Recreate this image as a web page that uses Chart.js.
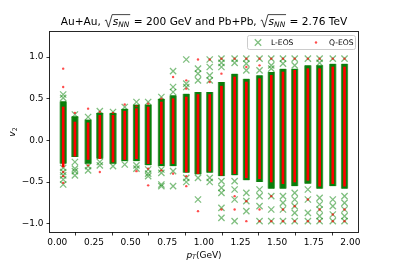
<!DOCTYPE html>
<html>
<head>
<meta charset="utf-8">
<script src="https://cdn.jsdelivr.net/npm/chart.js@4.4.1/dist/chart.umd.min.js"></script>
<style>
	html, body { margin: 0; padding: 0; background: #fff; }
</style>
</head>
<body>
<canvas id="myChart" width="399" height="266"></canvas>
<script>
	// pT bin centres (GeV)
	var pt = [0.04, 0.12, 0.21, 0.29, 0.38, 0.46, 0.54, 0.62, 0.71, 0.79, 0.88, 0.96,
		1.04, 1.12, 1.21, 1.29, 1.38, 1.46, 1.54, 1.62, 1.71, 1.79, 1.88, 1.96];

	// dense part of each column (where the markers overlap into a solid band)
	var greenLo = [-0.28, -0.20, -0.28, -0.22, -0.28, -0.25, -0.25, -0.30, -0.31, -0.31, -0.39, -0.41,
		-0.39, -0.43, -0.42, -0.48, -0.50, -0.58, -0.58, -0.55, -0.52, -0.58, -0.55, -0.58];
	var greenHi = [0.47, 0.29, 0.25, 0.33, 0.33, 0.38, 0.43, 0.43, 0.50, 0.54, 0.56, 0.58,
		0.58, 0.70, 0.80, 0.74, 0.78, 0.82, 0.86, 0.86, 0.90, 0.90, 0.92, 0.92];
	var redLo = [-0.32, -0.19, -0.23, -0.22, -0.26, -0.23, -0.22, -0.28, -0.28, -0.28, -0.38, -0.40,
		-0.37, -0.42, -0.40, -0.45, -0.46, -0.50, -0.52, -0.50, -0.48, -0.55, -0.52, -0.55];
	var redHi = [0.40, 0.22, 0.21, 0.30, 0.30, 0.35, 0.38, 0.40, 0.46, 0.50, 0.52, 0.55,
		0.55, 0.65, 0.76, 0.70, 0.74, 0.78, 0.82, 0.84, 0.86, 0.86, 0.88, 0.88];

	// single points outside the dense band, per column
	var greenOut = [
		[0.55, 0.51, -0.33, -0.38, -0.42, -0.47, -0.53],
		[0.31, -0.26, -0.34, -0.37, -0.42],
		[0.28, -0.31, -0.36],
		[0.35, -0.26, -0.30],
		[0.34, -0.31],
		[0.40, -0.29],
		[0.46, -0.30, -0.34],
		[0.46, -0.35, -0.40, -0.43],
		[0.52, -0.35, -0.39, -0.53, -0.55],
		[0.83, 0.64, 0.58, -0.37, -0.55],
		[0.97, 0.68, 0.64, -0.45, -0.50],
		[0.86, 0.80, 0.72, -0.45, -0.71],
		[0.97, 0.88, 0.78, 0.72, -0.45, -0.50],
		[0.98, 0.93, 0.88, -0.49, -0.57, -0.63, -0.81, -0.93],
		[0.98, 0.93, -0.49, -0.59, -0.71, -0.97],
		[0.98, 0.92, 0.84, -0.63, -0.73, -0.85],
		[0.98, 0.84, -0.59, -0.67, -0.79, -0.97],
		[0.98, 0.90, 0.86, -0.67, -0.83, -0.97],
		[0.98, 0.92, -0.67, -0.75, -0.83, -0.97],
		[0.98, 0.90, -0.63, -0.71, -0.79, -0.87, -0.97],
		[0.98, -0.59, -0.71, -0.87, -0.97],
		[0.98, 0.93, -0.69, -0.77, -0.83, -0.91, -0.97],
		[0.98, -0.71, -0.79, -0.89, -0.97],
		[0.98, -0.67, -0.75, -0.83, -0.91, -0.97]
	];
	var redOut = [
		[0.86, 0.64, -0.38, -0.43, -0.51],
		[0.33],
		[0.38, -0.30],
		[0.34, -0.38],
		[0.33],
		[0.43],
		[0.41, -0.37],
		[0.44, -0.34, -0.54],
		[0.50, -0.36],
		[0.76, -0.40],
		[0.72, 0.62, -0.43, -0.55],
		[0.97, -0.85],
		[0.97, 0.70],
		[0.98, 0.80, -0.83],
		[0.98, -0.67, -0.83],
		[0.98, 0.88, -0.73, -0.97],
		[0.98, 0.90, -0.83, -0.97],
		[0.98, -0.67, -0.97],
		[0.98, -0.83, -0.97],
		[0.98, -0.79, -0.97],
		[0.98, -0.71, -0.97],
		[0.98, -0.83, -0.97],
		[0.98, -0.89, -0.97],
		[0.98, -0.83, -0.97]
	];

	var seriesNames = ['L-EOS', 'Q-EOS'];
	var xTicks = [0, 0.25, 0.5, 0.75, 1, 1.25, 1.5, 1.75, 2];
	var yTicks = [-1, -0.5, 0, 0.5, 1];

	var sqrtS = {sqrt: [{t: 's', it: 1}, {t: 'NN', it: 1, sub: 1}]};
	var titleParts = [{t: 'Au+Au, '}, sqrtS, {t: ' = 200 GeV and Pb+Pb, '}, sqrtS, {t: ' = 2.76 TeV'}];
	var xLabelParts = [{t: 'p', it: 1}, {t: 'T', it: 1, sub: 1}, {t: '(GeV)'}];
	var yLabelParts = [{t: 'v', it: 1}, {t: '2', sub: 1}];

	var FONT = '"DejaVu Sans", sans-serif';
	var greenX = 'rgba(0, 128, 0, 0.5)';
	var redDot = 'rgba(255, 0, 0, 0.7)';

	function bandData(lo, hi) {
		return pt.map(function(x, i) { return {x: x, y: [lo[i], hi[i]]}; });
	}
	function outData(list) {
		var d = [];
		list.forEach(function(col, i) {
			col.forEach(function(v) { d.push({x: pt[i], y: v}); });
		});
		return d;
	}

	// small mathtext-like writer: italic, subscript, square root
	function fontFor(p, size) {
		return (p.it ? 'italic ' : '') + (p.sub ? size * 0.7 : size) + 'px ' + FONT;
	}
	function partsWidth(ctx, parts, size) {
		var w = 0;
		parts.forEach(function(p) {
			if (p.sqrt) { w += size * 0.8 + partsWidth(ctx, p.sqrt, size) + size * 0.1; return; }
			ctx.font = fontFor(p, size);
			w += ctx.measureText(p.t).width;
		});
		return w;
	}
	function drawParts(ctx, parts, x, by, size) {
		parts.forEach(function(p) {
			if (p.sqrt) {
				var inner = partsWidth(ctx, p.sqrt, size);
				var rw = size * 0.8, top = by - size * 0.98;
				ctx.beginPath();
				ctx.moveTo(x + size * 0.05, by - size * 0.40);
				ctx.lineTo(x + size * 0.18, by - size * 0.48);
				ctx.lineTo(x + size * 0.40, by + size * 0.20);
				ctx.lineTo(x + rw - size * 0.06, top);
				ctx.lineTo(x + rw + inner + size * 0.08, top);
				ctx.lineWidth = size * 0.07;
				ctx.strokeStyle = '#000';
				ctx.stroke();
				x = drawParts(ctx, p.sqrt, x + rw, by, size) + size * 0.1;
				return;
			}
			ctx.font = fontFor(p, size);
			ctx.fillText(p.t, x, p.sub ? by + size * 0.22 : by);
			x += ctx.measureText(p.t).width;
		});
		return x;
	}

	var decorations = {
		id: 'decorations',
		afterDatasetsDraw: function(chart) {
			var ctx = chart.ctx, a = chart.chartArea;
			ctx.save();
			ctx.strokeStyle = 'rgba(0,0,0,0.85)';
			ctx.lineWidth = 1;
			ctx.strokeRect(Math.round(a.left) - 0.5, Math.round(a.top) - 0.5,
				Math.round(a.right - a.left) + 1, Math.round(a.bottom - a.top) + 1);
			ctx.restore();
		},
		afterDraw: function(chart) {
			var ctx = chart.ctx, a = chart.chartArea;
			var cx = (a.left + a.right) / 2;
			ctx.save();
			ctx.fillStyle = '#000';
			ctx.textBaseline = 'alphabetic';
			ctx.textAlign = 'left';

			// title
			var ts = 10.6;
			var tw = partsWidth(ctx, titleParts, ts);
			drawParts(ctx, titleParts, cx - tw / 2, 25, ts);

			// x label
			var ls = 9;
			var xw = partsWidth(ctx, xLabelParts, ls);
			drawParts(ctx, xLabelParts, cx - xw / 2, 257.5, ls);

			// y label
			var yw = partsWidth(ctx, yLabelParts, ls);
			ctx.save();
			ctx.translate(15, (a.top + a.bottom) / 2);
			ctx.rotate(-Math.PI / 2);
			drawParts(ctx, yLabelParts, -yw / 2, 0, ls);
			ctx.restore();

			// legend
			var lx = a.right - 110.5, ly = a.top + 3.5, lw = 108, lh = 14;
			ctx.beginPath();
			ctx.roundRect(lx, ly, lw, lh, 2);
			ctx.fillStyle = 'rgba(255,255,255,0.8)';
			ctx.fill();
			ctx.strokeStyle = '#cccccc';
			ctx.lineWidth = 1;
			ctx.stroke();

			var my = ly + lh / 2;
			var gx = lx + 10.5;
			ctx.beginPath();
			ctx.moveTo(gx - 3.2, my - 3.2); ctx.lineTo(gx + 3.2, my + 3.2);
			ctx.moveTo(gx - 3.2, my + 3.2); ctx.lineTo(gx + 3.2, my - 3.2);
			ctx.strokeStyle = greenX;
			ctx.lineWidth = 1.3;
			ctx.stroke();
			ctx.beginPath();
			ctx.arc(lx + 68.5, my, 1.2, 0, Math.PI * 2);
			ctx.fillStyle = redDot;
			ctx.fill();

			ctx.fillStyle = '#000';
			ctx.font = '7.6px ' + FONT;
			ctx.textBaseline = 'middle';
			ctx.fillText(seriesNames[0], lx + 23.5, my + 0.5);
			ctx.fillText(seriesNames[1], lx + 81.5, my + 0.5);
			ctx.restore();
		}
	};

	var tickFont = {family: FONT, size: 9};
	var ctxChart = document.getElementById('myChart').getContext('2d');
	var myChart = new Chart(ctxChart, {
		type: 'scatter',
		data: {
			datasets: [{
				type: 'bar',
				label: seriesNames[0] + ' band',
				data: bandData(greenLo, greenHi),
				backgroundColor: '#0a7d0a',
				borderColor: 'rgba(90, 170, 90, 1)',
				borderWidth: {left: 1, right: 1, top: 0, bottom: 0},
				borderSkipped: false,
				barThickness: 7,
				grouped: false,
				order: 4
			}, {
				label: seriesNames[0],
				data: outData(greenOut),
				pointStyle: 'crossRot',
				pointRadius: 4.4,
				pointBorderWidth: 1.3,
				pointBorderColor: greenX,
				pointBackgroundColor: greenX,
				order: 3
			}, {
				type: 'bar',
				label: seriesNames[1] + ' band',
				data: bandData(redLo, redHi),
				backgroundColor: '#ff0000',
				borderWidth: 0,
				barThickness: 2,
				grouped: false,
				order: 2
			}, {
				label: seriesNames[1],
				data: outData(redOut),
				pointStyle: 'circle',
				pointRadius: 1.2,
				pointBorderWidth: 0,
				pointBackgroundColor: redDot,
				order: 1
			}]
		},
		options: {
			responsive: false,
			animation: false,
			events: [],
			layout: {padding: {left: 0, right: 41, top: 32, bottom: 0}},
			plugins: {
				legend: {display: false},
				tooltip: {enabled: false},
				title: {display: false}
			},
			scales: {
				x: {
					type: 'linear',
					min: -0.05,
					max: 2.052,
					offset: false,
					afterFit: function(s) { s.height = 34; },
					afterBuildTicks: function(s) { s.ticks = xTicks.map(function(v) { return {value: v}; }); },
					border: {display: false},
					grid: {drawOnChartArea: false, drawTicks: true, tickLength: 3.5, tickColor: '#000', tickWidth: 0.8},
					ticks: {
						color: '#000',
						font: tickFont,
						padding: 2,
						maxRotation: 0,
						autoSkip: false,
						callback: function(v) { return v.toFixed(2); }
					}
				},
				y: {
					type: 'linear',
					min: -1.1,
					max: 1.3,
					afterFit: function(s) { s.width = 50; },
					afterBuildTicks: function(s) { s.ticks = yTicks.map(function(v) { return {value: v}; }); },
					border: {display: false},
					grid: {drawOnChartArea: false, drawTicks: true, tickLength: 3.5, tickColor: '#000', tickWidth: 0.8},
					ticks: {
						color: '#000',
						font: tickFont,
						padding: 3,
						autoSkip: false,
						callback: function(v) { return v.toFixed(1).replace('-', '\u2212'); }
					}
				}
			}
		},
		plugins: [decorations]
	});
</script>
</body>
</html>
